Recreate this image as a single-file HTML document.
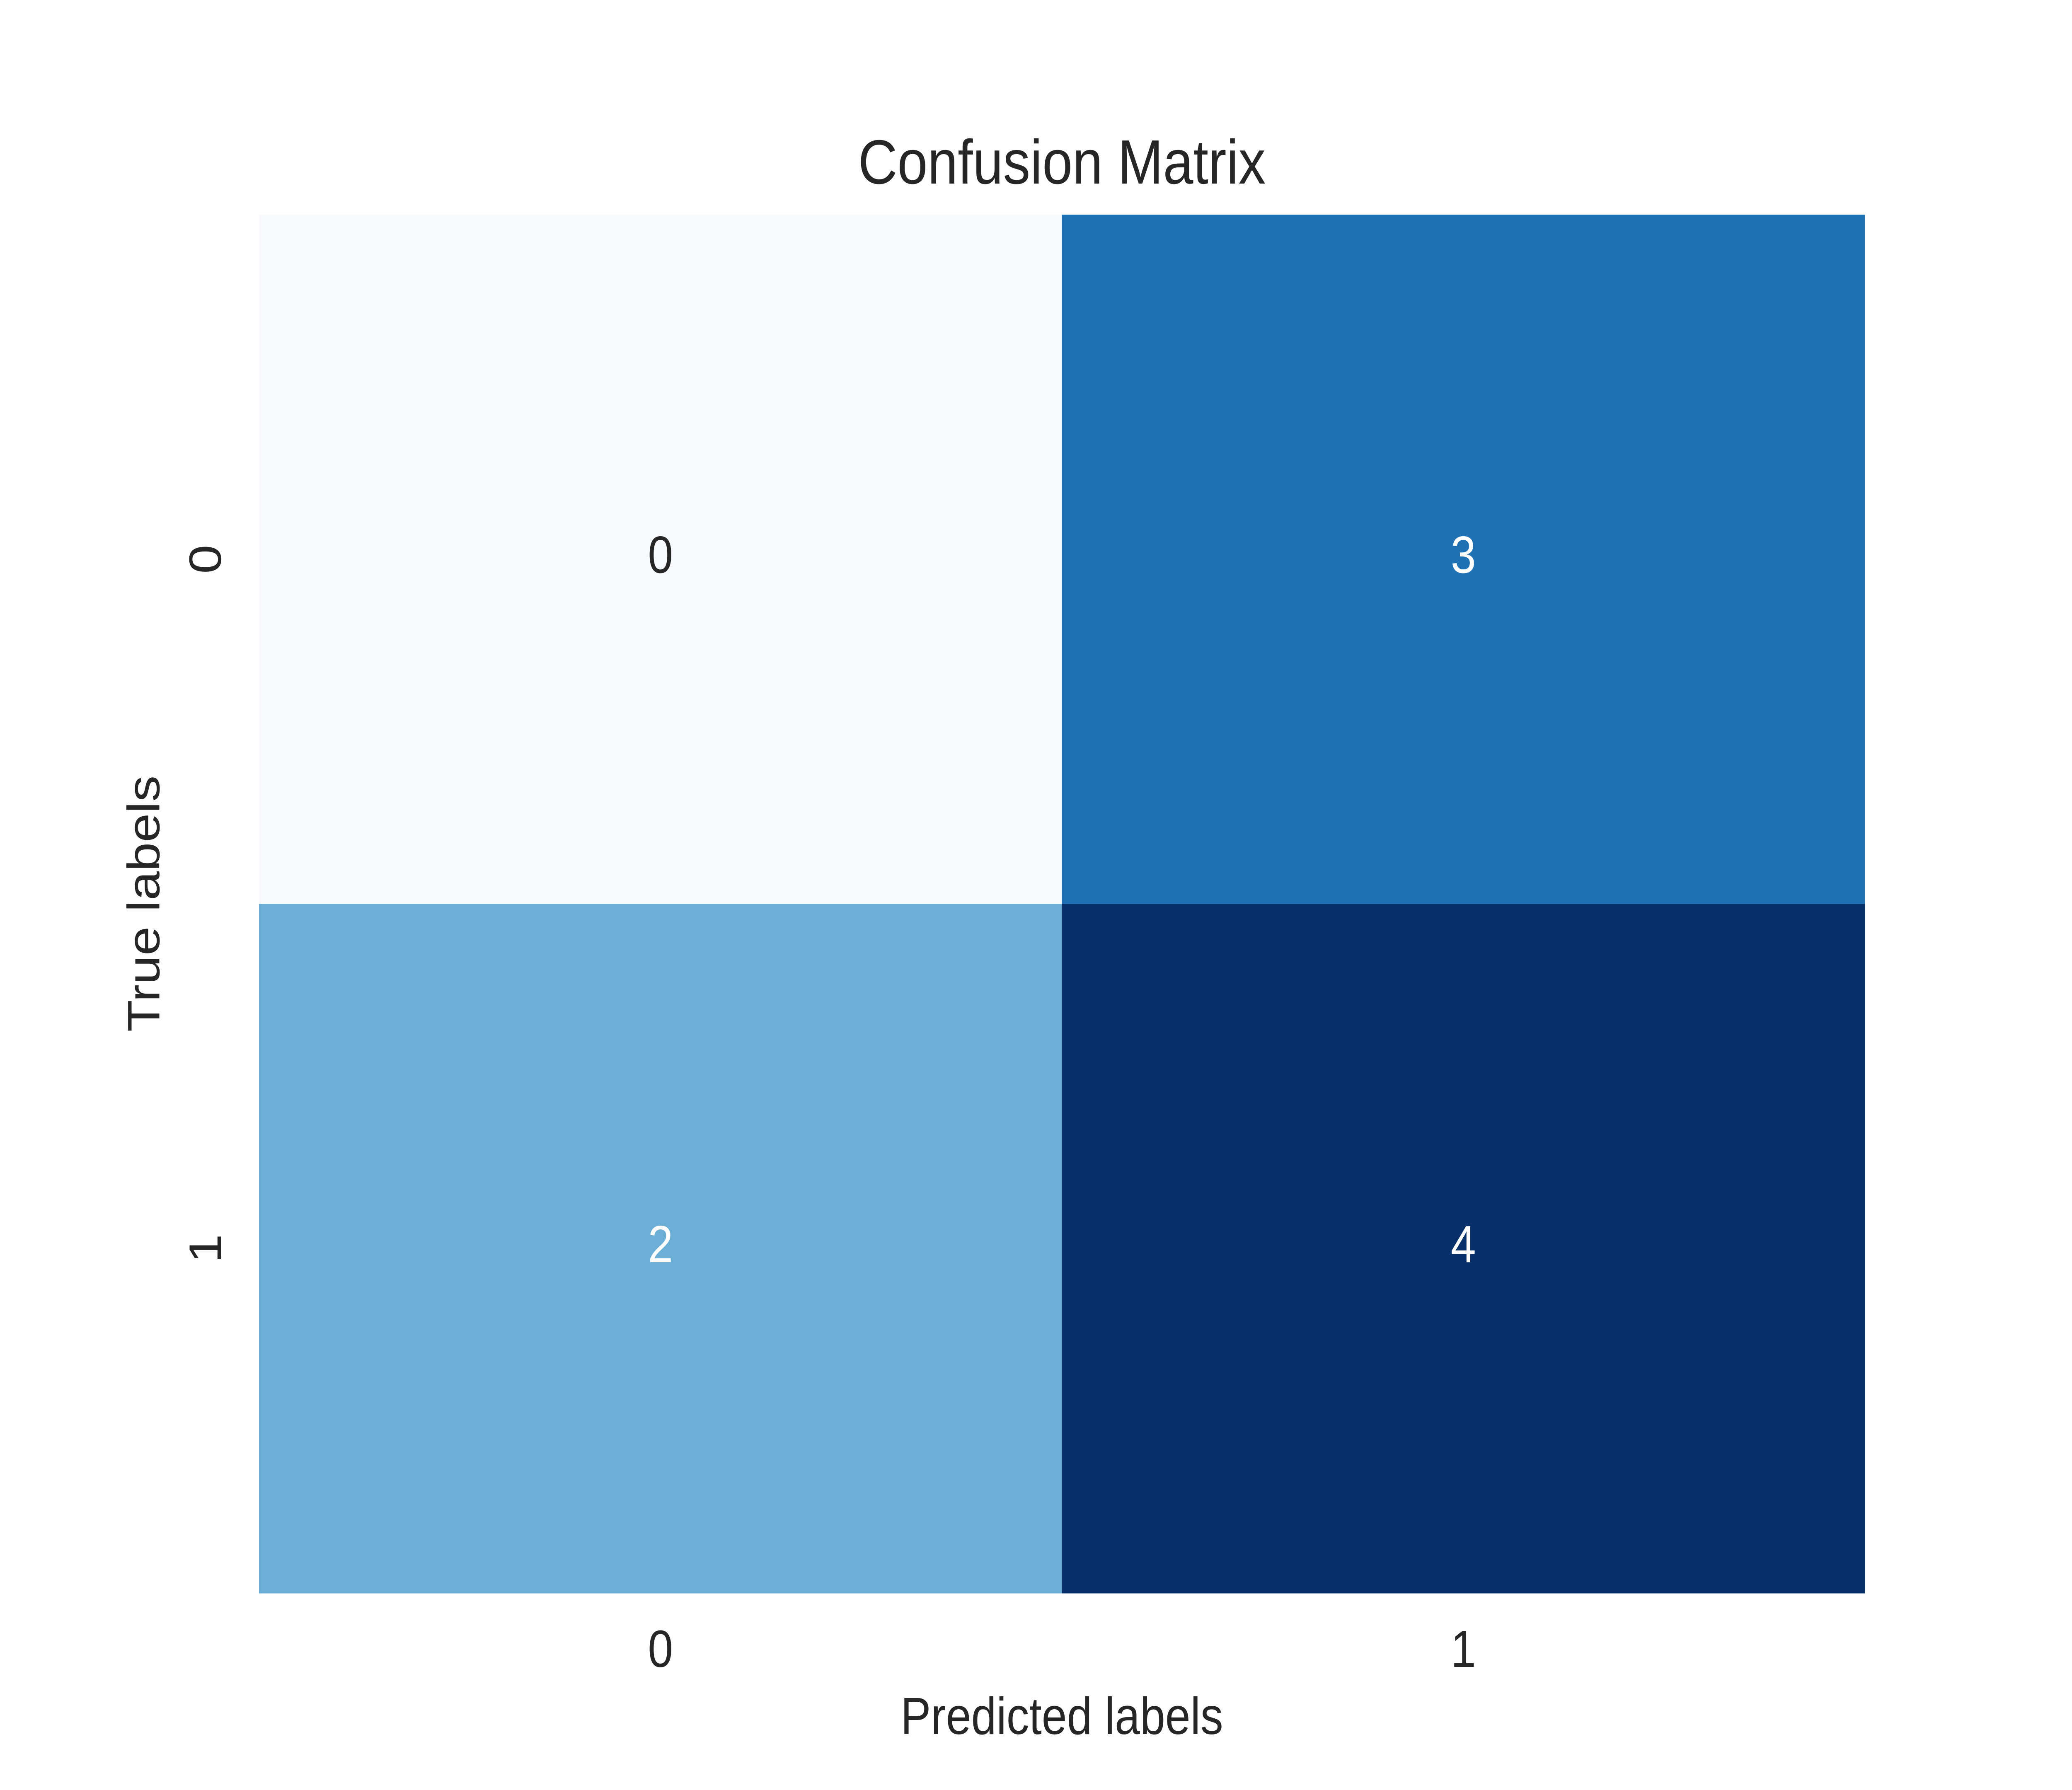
<!DOCTYPE html>
<html><head><meta charset="utf-8"><style>
html,body{margin:0;padding:0;background:#fff;width:100%;height:100%;overflow:hidden;}
svg{display:block;width:100vw;height:100vh;}
text{font-family:"Liberation Sans",Arial,sans-serif;}
</style></head>
<body>
<svg id="chart" xmlns="http://www.w3.org/2000/svg" viewBox="0 0 5760 4320" preserveAspectRatio="none">
<rect x="0" y="0" width="5760" height="4320" fill="#ffffff"/>
<text x="2952" y="443" font-size="151" fill="#262626" text-anchor="middle">Confusion Matrix</text>
<g id="cells"></g>
<g id="ticks"></g>
<text x="2952" y="4185" font-size="126" fill="#262626" text-anchor="middle">Predicted labels</text>
<text transform="translate(443,2181) rotate(-90)" x="0" y="0" font-size="126" fill="#262626" text-anchor="middle">True labels</text>
</svg>
<script>
const xCategories = ["0", "1"];
const yCategories = ["0", "1"];
const matrixRow0 = [0, 3];
const matrixRow1 = [2, 4];
const matrix = [matrixRow0, matrixRow1];

const L = 720, R = 5184, T = 518, B = 3845;
const vmin = 0, vmax = 4;
const NS = "http://www.w3.org/2000/svg";
const cw = (R - L) / xCategories.length;
const ch = (B - T) / yCategories.length;
function xScale(i) { return L + i * cw; }
function yScale(j) { return T + j * ch; }

const blues = ["#f7fbff","#deebf7","#c6dbef","#9ecae1","#6baed6","#4292c6","#2171b5","#08519c","#08306b"];
function hex2rgb(h){return [parseInt(h.substr(1,2),16),parseInt(h.substr(3,2),16),parseInt(h.substr(5,2),16)];}
function colorFor(v){
  let t = (v - vmin) / (vmax - vmin); t = Math.max(0, Math.min(1, t));
  const p = t * (blues.length - 1); const i = Math.min(Math.floor(p), blues.length - 2); const f = p - i;
  const a = hex2rgb(blues[i]), b = hex2rgb(blues[i+1]);
  return [0,1,2].map(k => Math.round(a[k] + (b[k]-a[k]) * f));
}
function lum(c){
  const l = c.map(x => { x /= 255; return x <= 0.03928 ? x/12.92 : Math.pow((x+0.055)/1.055, 2.4); });
  return 0.2126*l[0] + 0.7152*l[1] + 0.0722*l[2];
}

const cells = document.getElementById('cells');
for (let r = 0; r < matrix.length; r++) {
  for (let c = 0; c < matrix[r].length; c++) {
    const v = matrix[r][c];
    const col = colorFor(v);
    const rect = document.createElementNS(NS, 'rect');
    rect.setAttribute('x', xScale(c));
    rect.setAttribute('y', yScale(r));
    rect.setAttribute('width', cw + 0.5);
    rect.setAttribute('height', ch + 0.5);
    rect.setAttribute('fill', 'rgb(' + col.join(',') + ')');
    
    
    cells.appendChild(rect);
    const t = document.createElementNS(NS, 'text');
    t.setAttribute('x', xScale(c) + cw / 2);
    t.setAttribute('y', yScale(r) + ch / 2 + 33);
    t.setAttribute('font-size', '126');
    t.setAttribute('text-anchor', 'middle');
    t.setAttribute('fill', lum(col) > 0.408 ? '#262626' : '#ffffff');
    t.textContent = String(v);
    
    
    cells.appendChild(t);
  }
}

const ticks = document.getElementById('ticks');
xCategories.forEach((lab, i) => {
  const t = document.createElementNS(NS, 'text');
  t.setAttribute('x', xScale(i) + cw / 2);
  t.setAttribute('y', 4023);
  t.setAttribute('font-size', '126');
  t.setAttribute('text-anchor', 'middle');
  t.setAttribute('fill', '#262626');
  t.textContent = lab;
  
  
  ticks.appendChild(t);
});
yCategories.forEach((lab, j) => {
  const t = document.createElementNS(NS, 'text');
  const cy = yScale(j) + ch / 2;
  t.setAttribute('transform', 'translate(614,' + cy + ') rotate(-90)');
  t.setAttribute('font-size', '126');
  t.setAttribute('text-anchor', 'middle');
  t.setAttribute('fill', '#262626');
  t.textContent = lab;
  
  
  ticks.appendChild(t);
});
</script>
</body></html>
